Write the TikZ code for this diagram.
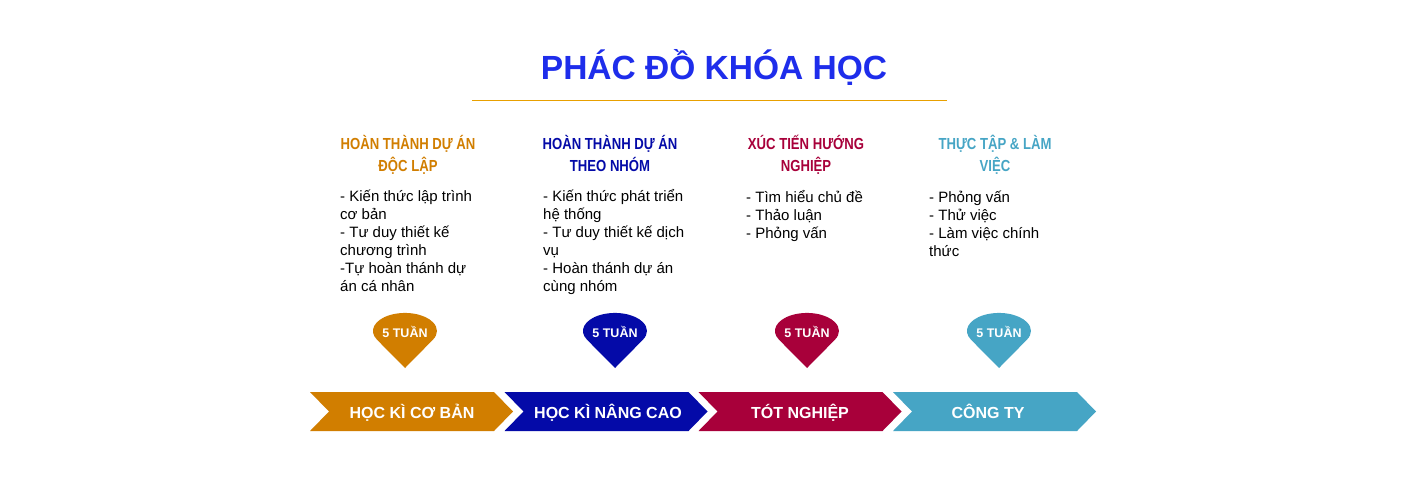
\documentclass[tikz,border=0pt]{standalone}
\usepackage{fontspec}
\setmainfont{Liberation Sans}
\newfontfamily\headfont[FakeStretch=0.82]{Liberation Sans Bold}
\newfontfamily\titlefont{Liberation Sans Bold}
\definecolor{cOrange}{RGB}{209,126,0}
\definecolor{cBlue}{RGB}{4,10,168}
\definecolor{cRed}{RGB}{168,0,58}
\definecolor{cTeal}{RGB}{70,165,197}
\definecolor{titleblue}{RGB}{30,45,235}
\definecolor{ruleorange}{RGB}{232,160,0}
\begin{document}
\begin{tikzpicture}[x=1pt,y=-1pt,
  heading/.style={font=\headfont\fontsize{16}{22}\selectfont, align=center, inner sep=0pt, anchor=north},
  body/.style={font=\fontsize{15}{18}\selectfont, align=left, inner sep=0pt, anchor=north west, text=black},
  chevtext/.style={font=\bfseries\fontsize{16}{16}\selectfont, text=white, anchor=base, inner sep=0pt},
  pintext/.style={font=\bfseries\fontsize{12.5}{12.5}\selectfont, text=white, anchor=base, inner sep=0pt}]
\useasboundingbox (0,0) rectangle (1404,480);
\fill[white] (0,0) rectangle (1404,480);

% title
\node[font=\titlefont\fontsize{33.5}{40}\selectfont, text=titleblue, anchor=base, inner sep=0pt] (title) at (714,79) {PHÁC ĐỒ KHÓA HỌC};
\coordinate (ruleL) at (472,100);
\coordinate (ruleR) at (947,100);
\draw[ruleorange, line width=1pt] (ruleL) -- (ruleR);

% headings
\node[heading, text=cOrange] (h1) at (408,133) {\rule{0pt}{16pt}HOÀN THÀNH DỰ ÁN\\ĐỘC LẬP};
\node[heading, text=cBlue] (h2) at (610,133) {\rule{0pt}{16pt}HOÀN THÀNH DỰ ÁN\\THEO NHÓM};
\node[heading, text=cRed] (h3) at (806,133) {\rule{0pt}{16pt}XÚC TIẾN HƯỚNG\\NGHIỆP};
\node[heading, text=cTeal] (h4) at (995,133) {\rule{0pt}{16pt}THỰC TẬP \& LÀM\\VIỆC};

% body texts
\node[body] (b1) at (340,185) {\rule{0pt}{16pt}- Kiến thức lập trình\\cơ bản\\- Tư duy thiết kế\\chương trình\\-Tự hoàn thánh dự\\án cá nhân};
\node[body] (b2) at (543,185) {\rule{0pt}{16pt}- Kiến thức phát triển\\hệ thống\\- Tư duy thiết kế dịch\\vụ\\- Hoàn thánh dự án\\cùng nhóm};
\node[body] (b3) at (746,186) {\rule{0pt}{16pt}- Tìm hiểu chủ đề\\- Thảo luận\\- Phỏng vấn};
\node[body] (b4) at (929,186) {\rule{0pt}{16pt}- Phỏng vấn\\- Thử việc\\- Làm việc chính\\thức};

% pins
\foreach \cx/\col/\nm in {405/cOrange/p1, 615/cBlue/p2, 807/cRed/p3, 999/cTeal/p4}{
  \fill[\col] (\cx,368) -- ({\cx-28},339.7) arc[start angle=150.9, end angle=389.1, x radius=32, y radius=18] -- cycle;
  \node[pintext] (\nm) at (\cx,337) {5 TUẦN};
}

% chevrons
\foreach \x/\col in {310/cOrange, 504.5/cBlue, 698.5/cRed, 893/cTeal}{
  \fill[\col] (\x,392) -- ({\x+184},392) -- ({\x+203},411.5) -- ({\x+184},431) -- (\x,431) -- ({\x+19},411.5) -- cycle;
}
\node[chevtext] (c1) at (412,418) {HỌC KÌ CƠ BẢN};
\node[chevtext] (c2) at (608,418) {HỌC KÌ NÂNG CAO};
\node[chevtext] (c3) at (800,418) {TÓT NGHIỆP};
\node[chevtext] (c4) at (988,418) {CÔNG TY};
\end{tikzpicture}
\end{document}
